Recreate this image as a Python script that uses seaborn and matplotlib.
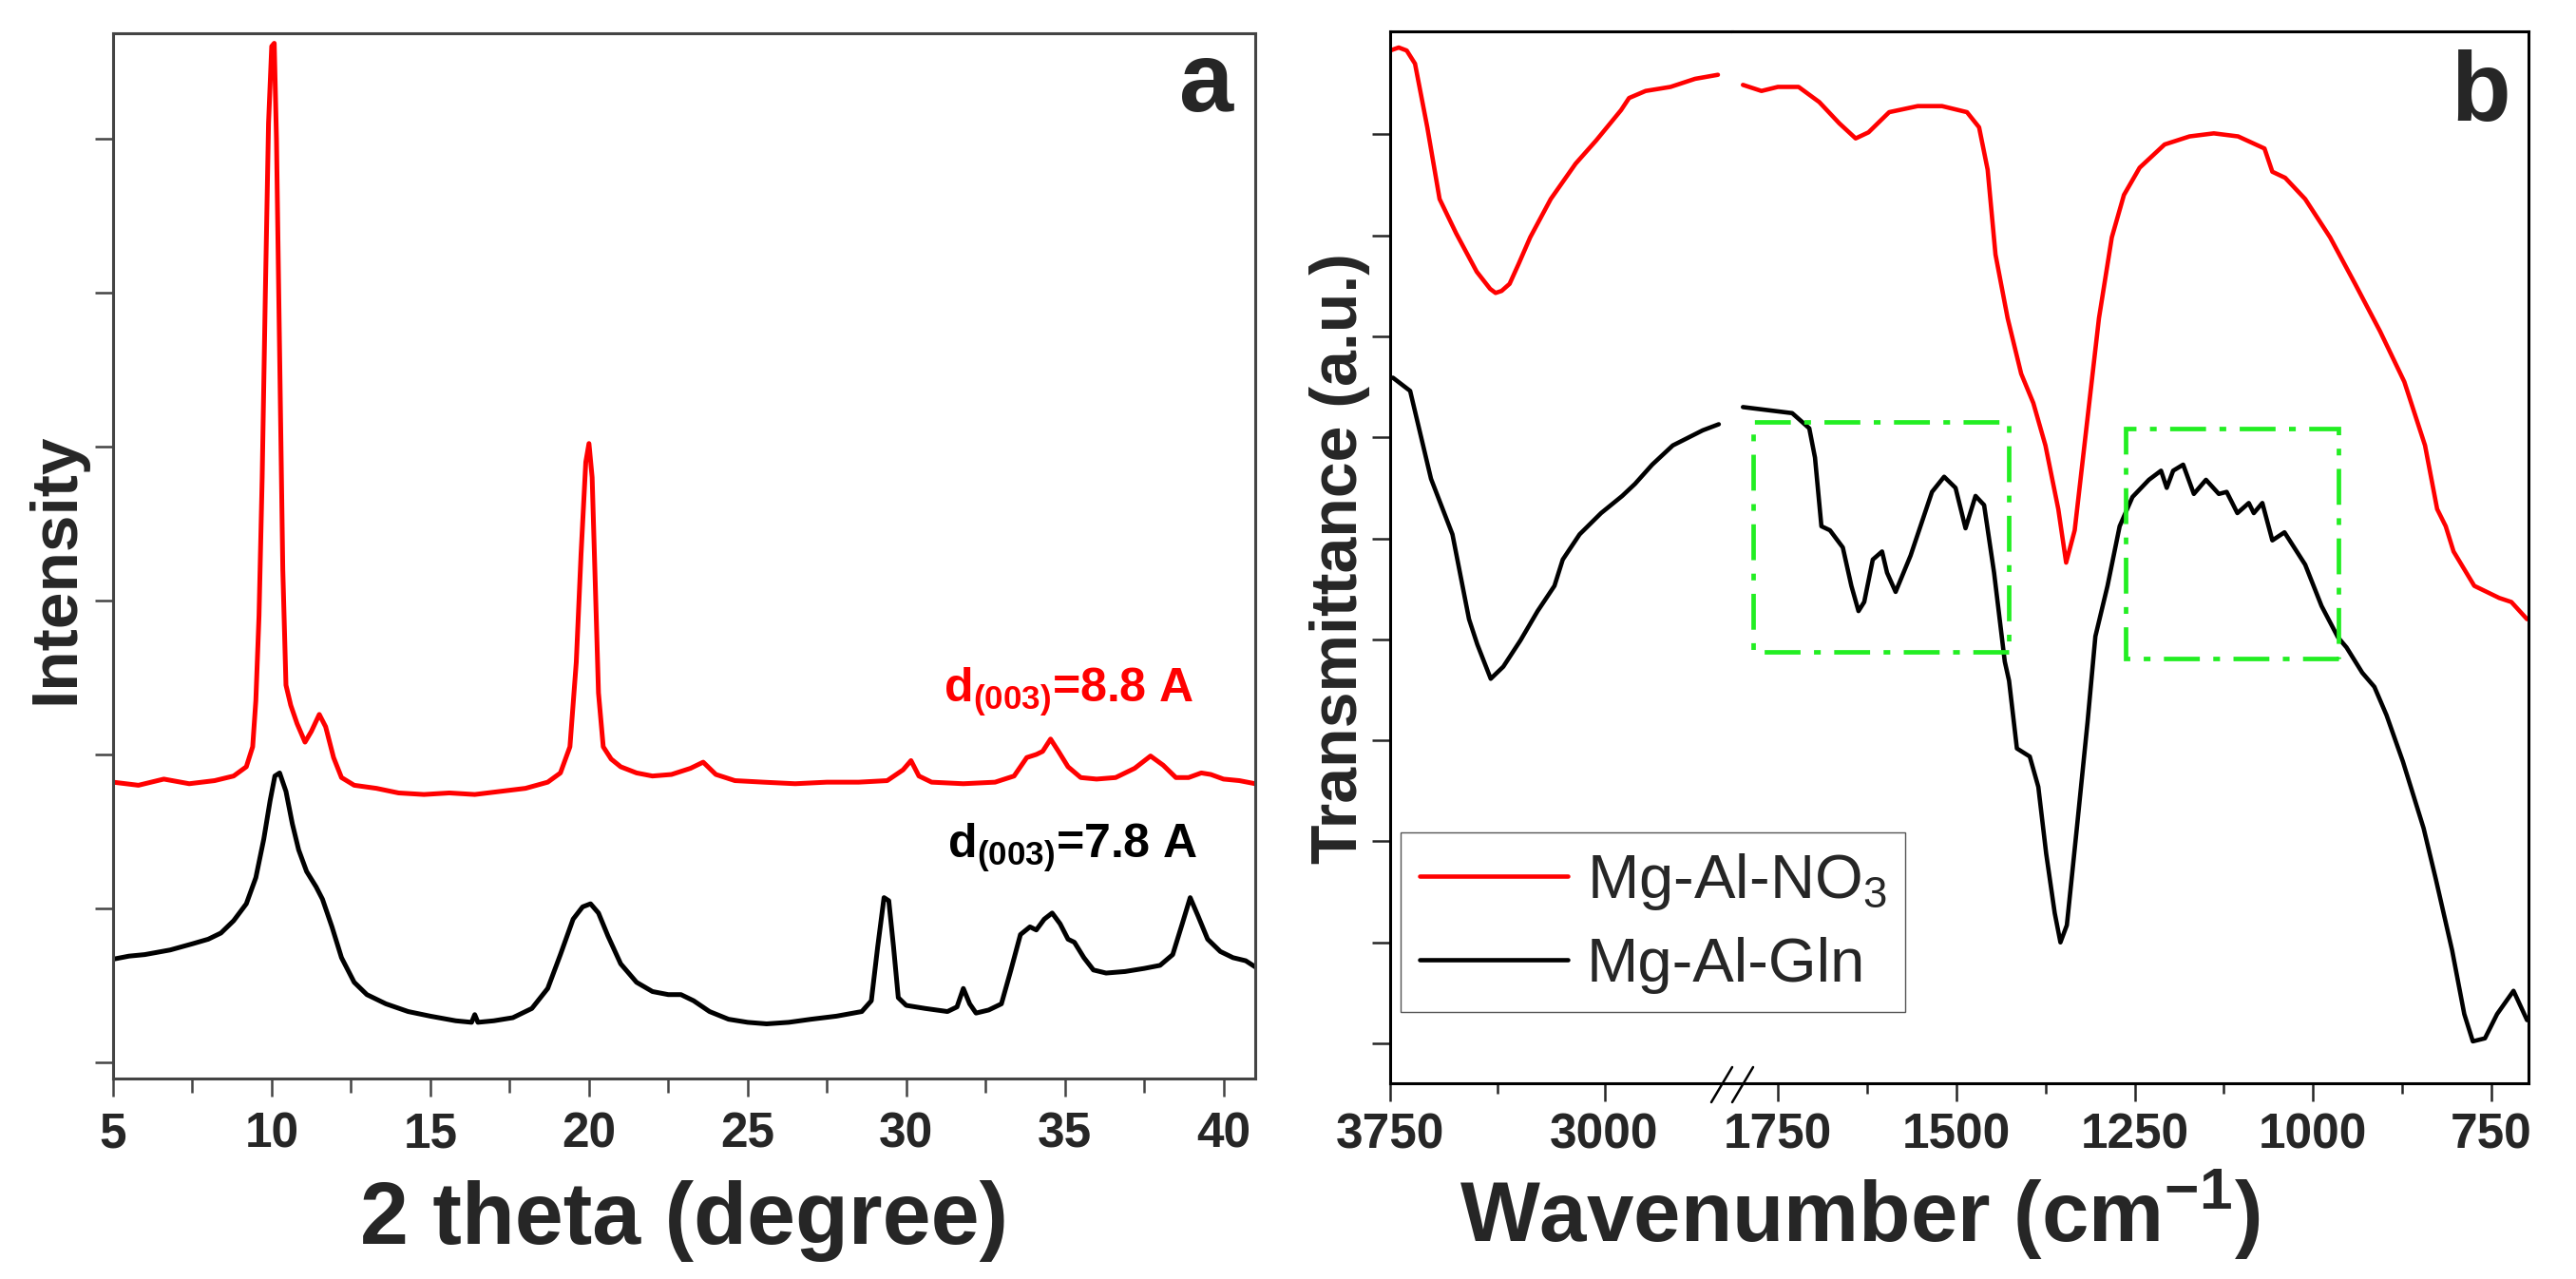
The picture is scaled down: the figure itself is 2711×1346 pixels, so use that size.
import matplotlib
matplotlib.use("Agg")
import seaborn as sns
import matplotlib.pyplot as plt
from matplotlib.ticker import MultipleLocator, FixedLocator
from matplotlib.patches import Rectangle

# ---- XRD data (panel a) ----
xrd_theta_red = [5.0, 5.8, 6.6, 7.4, 8.2, 8.8, 9.2, 9.4, 9.5, 9.6, 9.7, 9.8, 9.9, 10.0, 10.08,
                 10.15, 10.25, 10.35, 10.45, 10.6, 10.8, 11.05, 11.25, 11.5, 11.7, 11.95, 12.2,
                 12.6, 13.3, 14.0, 14.8, 15.6, 16.4, 17.2, 18.0, 18.7, 19.1, 19.4, 19.6, 19.75,
                 19.9, 20.0, 20.1, 20.2, 20.3, 20.45, 20.7, 21.0, 21.5, 22.0, 22.6, 23.2, 23.6,
                 24.0, 24.6, 25.5, 26.5, 27.5, 28.5, 29.4, 29.9, 30.15, 30.4, 30.8, 31.8, 32.8,
                 33.4, 33.8, 34.1, 34.3, 34.55, 34.8, 35.1, 35.5, 36.0, 36.6, 37.2, 37.7, 38.1,
                 38.5, 38.9, 39.3, 39.6, 40.0, 40.5, 41.0]
xrd_red = [1.82, 1.80, 1.84, 1.81, 1.83, 1.86, 1.92, 2.05, 2.35, 2.9, 3.8, 5.0, 6.1, 6.6, 6.62,
           6.0, 4.6, 3.2, 2.45, 2.32, 2.2, 2.08, 2.15, 2.26, 2.18, 1.98, 1.85,
           1.80, 1.78, 1.75, 1.74, 1.75, 1.74, 1.76, 1.78, 1.82, 1.88, 2.05, 2.6, 3.3,
           3.9, 4.02, 3.8, 3.1, 2.4, 2.05, 1.97, 1.92, 1.88, 1.86, 1.87, 1.91, 1.95,
           1.87, 1.83, 1.82, 1.81, 1.82, 1.82, 1.83, 1.90, 1.96, 1.86, 1.82, 1.81, 1.82,
           1.86, 1.98, 2.0, 2.02, 2.10, 2.02, 1.92, 1.85, 1.84, 1.85, 1.91, 1.99, 1.93,
           1.85, 1.85, 1.88, 1.87, 1.84, 1.83, 1.81]

xrd_theta_black = [5.0, 5.5, 6.0, 6.8, 7.5, 8.0, 8.4, 8.8, 9.2, 9.5, 9.75, 9.95, 10.1, 10.25,
                   10.45, 10.65, 10.85, 11.1, 11.4, 11.6, 11.9, 12.2, 12.6, 13.0, 13.6, 14.3,
                   15.0, 15.8, 16.3, 16.4, 16.5, 17.0, 17.6, 18.2, 18.7, 19.1, 19.5, 19.8,
                   20.05, 20.3, 20.6, 21.0, 21.5, 22.0, 22.5, 22.9, 23.3, 23.8, 24.4, 25.0,
                   25.6, 26.3, 27.0, 27.8, 28.6, 28.9, 29.1, 29.3, 29.45, 29.6, 29.75, 30.0,
                   30.6, 31.3, 31.6, 31.8, 32.0, 32.2, 32.6, 33.0, 33.3, 33.6, 33.9, 34.1,
                   34.35, 34.6, 34.85, 35.1, 35.3, 35.6, 35.9, 36.3, 36.9, 37.5, 38.0, 38.4,
                   38.7, 38.95, 39.2, 39.5, 39.9, 40.3, 40.7, 41.0]
xrd_black = [0.67, 0.69, 0.70, 0.73, 0.77, 0.80, 0.84, 0.92, 1.03, 1.20, 1.45, 1.70, 1.86, 1.88,
             1.76, 1.55, 1.38, 1.24, 1.14, 1.06, 0.88, 0.68, 0.52, 0.44, 0.38, 0.33,
             0.30, 0.27, 0.26, 0.31, 0.26, 0.27, 0.29, 0.35, 0.48, 0.70, 0.93, 1.01,
             1.03, 0.97, 0.82, 0.64, 0.52, 0.46, 0.44, 0.44, 0.40, 0.33, 0.28, 0.26,
             0.25, 0.26, 0.28, 0.30, 0.33, 0.40, 0.75, 1.07, 1.05, 0.75, 0.42, 0.37,
             0.35, 0.33, 0.36, 0.48, 0.38, 0.32, 0.34, 0.38, 0.60, 0.83, 0.88, 0.86,
             0.93, 0.97, 0.90, 0.80, 0.78, 0.68, 0.60, 0.58, 0.59, 0.61, 0.63, 0.70,
             0.90, 1.07, 0.95, 0.80, 0.72, 0.68, 0.66, 0.62]

# ---- FTIR data (panel b), split at the axis break ----
ir_w_red_hi = [3750, 3720, 3692, 3663, 3620, 3577, 3519, 3447, 3400, 3381, 3360, 3332, 3300,
               3260, 3188, 3101, 3029, 2942, 2914, 2856, 2769, 2683, 2603]
ir_red_hi = [9.83, 9.86, 9.83, 9.70, 9.07, 8.36, 8.02, 7.64, 7.47, 7.43, 7.45, 7.52, 7.72,
             7.98, 8.36, 8.71, 8.94, 9.24, 9.36, 9.43, 9.47, 9.55, 9.59]
ir_w_red_lo = [1799, 1773, 1750, 1721, 1692, 1664, 1641, 1623, 1594, 1554, 1520, 1485, 1468,
               1456, 1445, 1428, 1409, 1392, 1375, 1357, 1346, 1334, 1317, 1300, 1282, 1265,
               1243, 1208, 1173, 1139, 1105, 1068, 1057, 1039, 1011, 976, 941, 906, 872, 843,
               826, 814, 803, 774, 739, 722, 700]
ir_red_lo = [9.49, 9.43, 9.47, 9.47, 9.32, 9.11, 8.96, 9.02, 9.22, 9.28, 9.28, 9.22, 9.07,
             8.65, 7.81, 7.18, 6.63, 6.34, 5.92, 5.29, 4.76, 5.08, 6.13, 7.18, 7.98, 8.40,
             8.67, 8.90, 8.98, 9.01, 8.98, 8.86, 8.63, 8.57, 8.36, 7.98, 7.52, 7.05, 6.55, 5.92,
             5.29, 5.12, 4.87, 4.53, 4.41, 4.37, 4.20]

ir_w_black_hi = [3750, 3740, 3680, 3607, 3532, 3474, 3445, 3398, 3354, 3294, 3234, 3175, 3146,
                 3087, 3012, 2938, 2893, 2833, 2761, 2656, 2600]
ir_black_hi = [6.59, 6.59, 6.46, 5.59, 5.04, 4.20, 3.95, 3.61, 3.73, 3.99, 4.28, 4.53, 4.79,
               5.04, 5.25, 5.42, 5.54, 5.73, 5.92, 6.07, 6.13]
ir_w_black_lo = [1799, 1730, 1706, 1698, 1689, 1677, 1659, 1647, 1637, 1629, 1617, 1604, 1597,
                 1585, 1564, 1534, 1517, 1501, 1487, 1473, 1461, 1447, 1432, 1426, 1415, 1397,
                 1385, 1374, 1362, 1354, 1345, 1331, 1316, 1305, 1288, 1271, 1253, 1230, 1213,
                 1205, 1196, 1182, 1167, 1150, 1132, 1121, 1106, 1090, 1083, 1071, 1057, 1040,
                 1011, 988, 965, 953, 931, 914, 897, 874, 845, 828, 805, 788, 776, 759, 742,
                 719, 700]
ir_black_lo = [6.30, 6.24, 6.09, 5.80, 5.12, 5.08, 4.91, 4.53, 4.28, 4.37, 4.79, 4.87, 4.66,
               4.47, 4.83, 5.46, 5.61, 5.50, 5.10, 5.42, 5.33, 4.66, 3.78, 3.59, 2.92, 2.84,
               2.54, 1.88, 1.29, 1.00, 1.17, 2.13, 3.18, 4.03, 4.53, 5.12, 5.41, 5.58, 5.67,
               5.50, 5.67, 5.73, 5.44, 5.58, 5.44, 5.46, 5.25, 5.35, 5.25, 5.35, 4.98, 5.06,
               4.74, 4.33, 4.02, 3.92, 3.67, 3.53, 3.25, 2.79, 2.13, 1.63, 0.92, 0.29, 0.02,
               0.05, 0.29, 0.52, 0.23]

# highlighted regions (wavenumber from / to, transmittance bottom / top)
box_w_from = [1785, 1262]
box_w_to = [1426, 964]
box_bottom = [3.88, 3.81]
box_top = [6.15, 6.09]

legend_labels = ["Mg-Al-NO$_\\mathregular{3}$", "Mg-Al-Gln"]

sns.set_theme(style="ticks")
plt.rcParams["font.family"] = ["Liberation Sans", "DejaVu Sans"]
plt.rcParams["font.weight"] = "bold"

W, H = 2711, 1346
fig = plt.figure(figsize=(W / 100, H / 100), dpi=100)


def frac(x0, y0, x1, y1):
    # pixel box -> figure fraction rect
    return [x0 / W, 1 - y1 / H, (x1 - x0) / W, (y1 - y0) / H]


ax_a = fig.add_axes(frac(119, 35, 1321, 1135))
ax_hi = fig.add_axes(frac(1463, 33, 1823, 1140))
ax_lo = fig.add_axes(frac(1823, 33, 2661, 1140))

# ---------------- panel a ----------------
sns.lineplot(x=xrd_theta_red, y=xrd_red, ax=ax_a, color="#ff0000", lw=3.6,
             estimator=None, sort=False)
sns.lineplot(x=xrd_theta_black, y=xrd_black, ax=ax_a, color="black", lw=3.6,
             estimator=None, sort=False)
ax_a.set_xlim(5, 41)
ax_a.set_ylim(-0.105, 6.685)
ax_a.xaxis.set_major_locator(MultipleLocator(5))
ax_a.xaxis.set_minor_locator(MultipleLocator(2.5))
ax_a.set_yticks(range(7))
ax_a.set_yticklabels([])
for sp in ax_a.spines.values():
    sp.set_color("#444444")
    sp.set_linewidth(2.2)
ax_a.tick_params(axis="both", which="major", direction="out", length=14, width=1.8,
                 color="#444444", labelsize=37, pad=11)
ax_a.tick_params(axis="x", which="minor", direction="out", length=11, width=1.8,
                 color="#444444")
ax_a.set_xlabel("")
ax_a.set_ylabel("")
ax_a.text(0.981, 0.9255, "a", transform=ax_a.transAxes, ha="right", va="baseline",
          fontsize=74, fontweight="bold")
ax_a.text(31.18, 2.34, "d$_\\mathregular{(003)}$=8.8 A", color="#ff0000", fontsize=36,
          fontweight="bold", ha="left", va="baseline")
ax_a.text(31.3, 1.33, "d$_\\mathregular{(003)}$=7.8 A", color="black", fontsize=36,
          fontweight="bold", ha="left", va="baseline")

# ---------------- panel b (broken x axis) ----------------
sns.lineplot(x=ir_w_red_hi, y=ir_red_hi, ax=ax_hi, color="#ff0000", lw=3.3,
             estimator=None, sort=False)
sns.lineplot(x=ir_w_black_hi, y=ir_black_hi, ax=ax_hi, color="black", lw=3.3,
             estimator=None, sort=False)
sns.lineplot(x=ir_w_red_lo, y=ir_red_lo, ax=ax_lo, color="#ff0000", lw=3.3,
             estimator=None, sort=False, label=legend_labels[0])
sns.lineplot(x=ir_w_black_lo, y=ir_black_lo, ax=ax_lo, color="black", lw=3.3,
             estimator=None, sort=False, label=legend_labels[1])

for ax in (ax_hi, ax_lo):
    ax.set_ylim(-0.395, 10.02)
    for sp in ax.spines.values():
        sp.set_color("black")
        sp.set_linewidth(2.2)
    ax.tick_params(axis="both", which="major", direction="out", length=14, width=1.8,
                   labelsize=37, pad=8)
    ax.tick_params(axis="x", which="minor", direction="out", length=8, width=1.8)
    ax.set_xlabel("")
    ax.set_ylabel("")

ax_hi.set_xlim(3750, 2553)
ax_hi.set_xticks([3750, 3000])
ax_hi.xaxis.set_minor_locator(FixedLocator([3375]))
ax_hi.set_yticks(range(10))
ax_hi.set_yticklabels([])
ax_hi.spines["right"].set_visible(False)

ax_lo.set_xlim(1814, 698)
ax_lo.xaxis.set_major_locator(MultipleLocator(250))
ax_lo.xaxis.set_minor_locator(MultipleLocator(125))
ax_lo.set_yticks([])
ax_lo.spines["left"].set_visible(False)

for wf, wt, yb, yt in zip(box_w_from, box_w_to, box_bottom, box_top):
    ax_lo.add_patch(Rectangle((wt, yb), wf - wt, yt - yb, fill=False,
                              edgecolor="#22ee22", lw=3.4,
                              linestyle=(0, (8, 3, 1.5, 3)), zorder=3))

ax_lo.text(0.977, 0.915, "b", transform=ax_lo.transAxes, ha="right", va="baseline",
           fontsize=74, fontweight="bold")

# break marks "//" on the bottom axis
bw, bh = 838, 1107
brk = dict(transform=ax_lo.transAxes, color="black", lw=1.8, clip_on=False)
for off in (-22, 0):
    ax_lo.plot([off / bw, (off + 22) / bw], [-20 / bh, 17 / bh], **brk)

handles, labels = ax_lo.get_legend_handles_labels()
ax_lo.get_legend().remove()
fig.legend(handles, labels, loc="upper left", bbox_to_anchor=(1474 / W, 1 - 876 / H),
           prop={"weight": "normal", "size": 47}, frameon=True, fancybox=False,
           edgecolor="#555555", framealpha=1, handlelength=2.4, handletextpad=0.3,
           borderpad=0.3, labelspacing=0.4, borderaxespad=0)

# axis titles
fig.text(720 / W, 1 - 1309 / H, "2 theta (degree)", ha="center", va="baseline",
         fontsize=66, fontweight="bold")
fig.text(1536 / W, 1 - 1307 / H, "Wavenumber (cm$^\\mathregular{-1}$)", ha="left",
         va="baseline", fontsize=64, fontweight="bold")
fig.text(59 / W, 1 - 598 / H, "Intensity", rotation=90, ha="center", va="center",
         fontsize=50, fontweight="bold")
fig.text(1410 / W, 1 - 588 / H, "Transmittance (a.u.)", rotation=90, ha="center",
         va="center", fontsize=49, fontweight="bold")

fig.savefig("out.png", dpi=100, facecolor="white")
